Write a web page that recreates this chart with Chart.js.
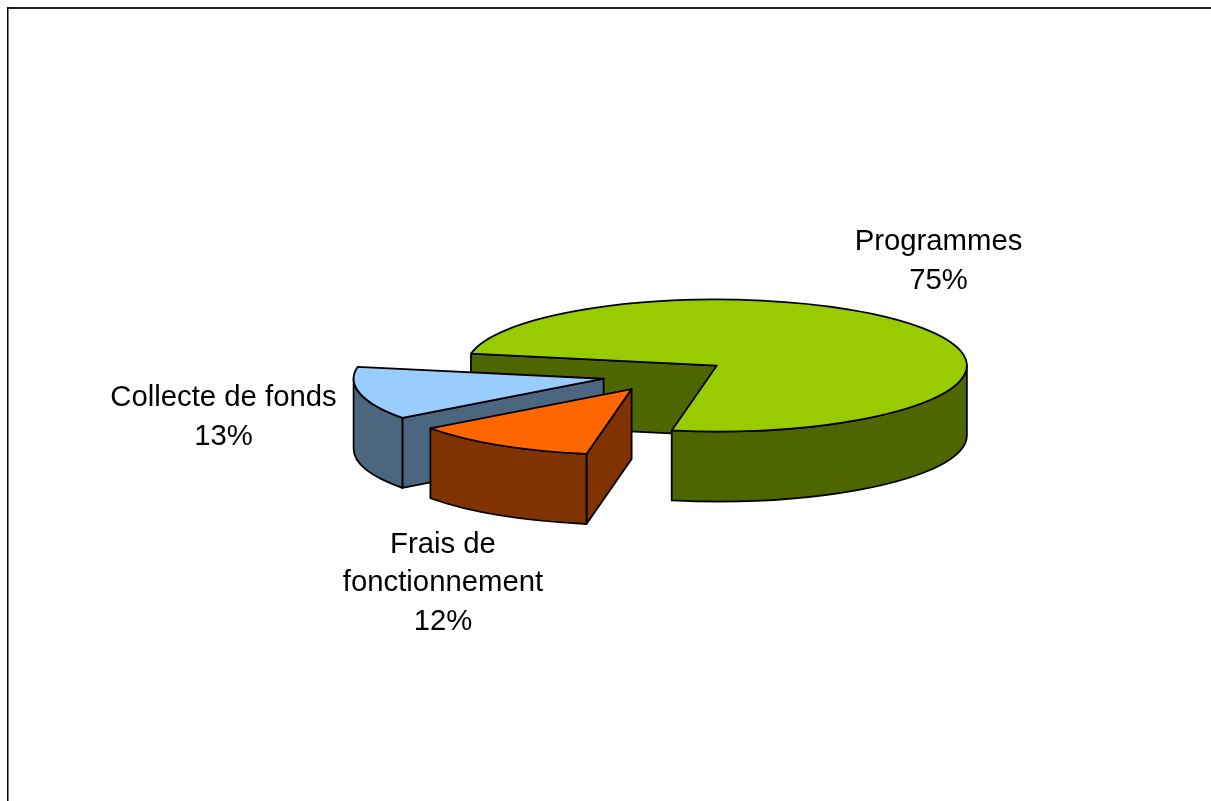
<!DOCTYPE html>
<html>
<head>
<meta charset="utf-8">
<title>Répartition des dépenses</title>
<script src="https://cdn.jsdelivr.net/npm/chart.js@4"></script>
<style>
  html, body { margin: 0; padding: 0; background: #fff; overflow: hidden; }
  canvas { display: block; }
</style>
</head>
<body>
<canvas id="myChart" width="1211" height="801"></canvas>
<script>
'use strict'

// chart data
const categories = ['Programmes', 'Frais de fonctionnement', 'Collecte de fonds'];
const percents = [75, 12, 13];
const topColors = ['#99CC00', '#FF6600', '#99CCFF'];
const wallColors = ['#4D6600', '#803300', '#4D6680'];
// label lines and where each block of text sits on the page
const labelLines = [
  ['Programmes', '75%'],
  ['Frais de', 'fonctionnement', '12%'],
  ['Collecte de fonds', '13%']
];
const labelX = [938.5, 443, 223.5];
const labelY = [242, 544.5, 398];

// fake 3d settings
const squash = 0.264;
const depth = 70;
const explode = 63;
const centerY = 375;
const firstSliceDeg = -79.6;
const lineWidth = 1.8;

function sliceMid(arc) {
  return (arc.startAngle + arc.endAngle) / 2;
}

function toScreenY(y) {
  return centerY + (y - centerY) * squash;
}

// outer wall is only visible on the front half of the ellipse
function frontRange(arc) {
  const twoPi = Math.PI * 2;
  let start = arc.startAngle;
  let end = arc.endAngle;
  while (start < 0) {
    start += twoPi;
    end += twoPi;
  }
  for (let k = 0; k < 2; k++) {
    const from = Math.max(start, k * twoPi);
    const to = Math.min(end, k * twoPi + Math.PI);
    if (to > from) {
      return [from, to];
    }
  }
  return null;
}

function paint(ctx, fill) {
  ctx.fillStyle = fill;
  ctx.fill();
  ctx.strokeStyle = '#000';
  ctx.lineWidth = lineWidth;
  ctx.lineJoin = 'round';
  ctx.stroke();
}

function drawRadialWall(ctx, arc, angle, fill) {
  const px = arc.x + Math.cos(angle) * arc.outerRadius;
  const py = toScreenY(arc.y + Math.sin(angle) * arc.outerRadius);
  const ay = toScreenY(arc.y);
  ctx.beginPath();
  ctx.moveTo(arc.x, ay);
  ctx.lineTo(px, py);
  ctx.lineTo(px, py + depth);
  ctx.lineTo(arc.x, ay + depth);
  ctx.closePath();
  paint(ctx, fill);
}

function drawOuterWall(ctx, arc, fill) {
  const range = frontRange(arc);
  if (!range) {
    return;
  }
  const cy = toScreenY(arc.y);
  const rx = arc.outerRadius;
  const ry = arc.outerRadius * squash;
  ctx.beginPath();
  ctx.ellipse(arc.x, cy, rx, ry, 0, range[0], range[1]);
  ctx.ellipse(arc.x, cy + depth, rx, ry, 0, range[1], range[0], true);
  ctx.closePath();
  paint(ctx, fill);
}

const pie3d = {
  id: 'pie3d',
  beforeDraw(chart) {
    // frame: only the top and left edges show
    const ctx = chart.ctx;
    ctx.save();
    ctx.fillStyle = '#222';
    ctx.fillRect(7, 7, 1204, 2);
    ctx.fillStyle = '#000';
    ctx.fillRect(7, 7, 1.5, 794);
    ctx.restore();
  },
  afterDatasetsUpdate(chart) {
    // pull the slices apart
    chart.getDatasetMeta(0).data.forEach(function(arc) {
      arc.x += Math.cos(sliceMid(arc)) * explode;
      arc.y += Math.sin(sliceMid(arc)) * explode;
    });
  },
  beforeDatasetsDraw(chart) {
    const ctx = chart.ctx;
    const arcs = chart.getDatasetMeta(0).data;
    // walls go down first, green at the back, orange at the front
    // the wall on the end angle of each slice faces away, so it is skipped
    [0, 2, 1].forEach(function(i) {
      drawRadialWall(ctx, arcs[i], arcs[i].startAngle, wallColors[i]);
      drawOuterWall(ctx, arcs[i], wallColors[i]);
    });
    ctx.save();
    ctx.translate(0, centerY);
    ctx.scale(1, squash);
    ctx.translate(0, -centerY);
  },
  afterDatasetsDraw(chart) {
    const ctx = chart.ctx;
    ctx.restore();
    chart.getDatasetMeta(0).data.forEach(function(arc) {
      ctx.save();
      ctx.translate(0, centerY);
      ctx.scale(1, squash);
      ctx.translate(0, -centerY);
      ctx.beginPath();
      ctx.moveTo(arc.x, arc.y);
      ctx.arc(arc.x, arc.y, arc.outerRadius, arc.startAngle, arc.endAngle);
      ctx.closePath();
      ctx.restore();
      // stroke after restore so the line is not flattened too
      ctx.strokeStyle = '#000';
      ctx.lineWidth = lineWidth;
      ctx.lineJoin = 'round';
      ctx.stroke();
    });

    ctx.save();
    ctx.fillStyle = '#000';
    ctx.font = '29.3px "Liberation Sans", Arial, sans-serif';
    ctx.textAlign = 'center';
    ctx.textBaseline = 'middle';
    labelLines.forEach(function(lines, i) {
      lines.forEach(function(line, j) {
        ctx.fillText(line, labelX[i], labelY[i] + j * 38.5);
      });
    });
    ctx.restore();
  }
};

const canvasChart = document.getElementById('myChart');
const myChart = new Chart(canvasChart, {
  type: 'pie',
  data: {
    labels: categories,
    datasets: [{
      data: percents,
      backgroundColor: topColors,
      borderWidth: 0
    }]
  },
  options: {
    responsive: false,
    animation: false,
    events: [],
    rotation: firstSliceDeg,
    layout: {
      padding: { left: 415, right: 296, top: 125, bottom: 176 }
    },
    plugins: {
      legend: { display: false },
      tooltip: { enabled: false }
    }
  },
  plugins: [pie3d]
});
</script>
</body>
</html>
